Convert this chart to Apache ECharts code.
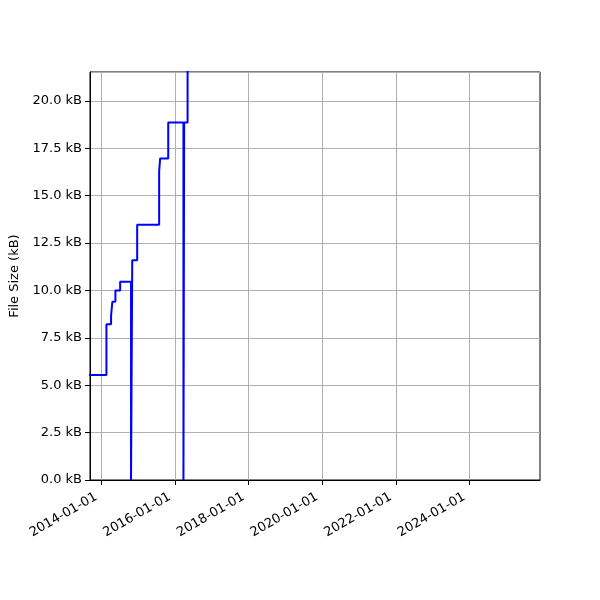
<!DOCTYPE html>
<html>
<head>
<meta charset="utf-8">
<script src="https://cdn.jsdelivr.net/npm/echarts@6/dist/echarts.min.js"></script>
<style>
  html, body { margin: 0; padding: 0; background: #fff; }
  #chart { width: 600px; height: 600px; }
</style>
</head>
<body>
<div id="chart"></div>
<script>
// commit dates and file sizes (kB), step-post
const commitDates = [
  '2013-06-01', '2014-02-20', '2014-04-07', '2014-04-20', '2014-05-20',
  '2014-07-06', '2014-10-22', '2014-11-03', '2014-12-22', '2015-07-28',
  '2015-08-07', '2015-10-26', '2016-03-25', '2016-04-01', '2016-05-05',
  '2016-06-01'
];
const fileSizes = [
  5.54, 8.22, 8.67, 9.41, 10.0,
  10.46, 0, 11.6, 13.47, 16.3,
  16.97, 18.86, 0, 18.86, 25.0,
  25.0
];
const xTicks = ['2014-01-01', '2016-01-01', '2018-01-01', '2020-01-01', '2022-01-01', '2024-01-01'];
const xRange = ['2013-09-10', '2025-11-30'];
const yMax = 21.53;

const toTime = s => echarts.time.parse(s).getTime();
const tickTimes = xTicks.map(toTime);

let myChart = echarts.init(document.getElementById('chart'));

myChart.setOption({
  animation: false,
  grid: {
    left: 90, right: 60, top: 72, bottom: 120,
    outerBoundsMode: 'none',
    containLabel: false,
    show: true, borderColor: '#000', borderWidth: 1
  },
  xAxis: {
    type: 'value',
    min: toTime(xRange[0]),
    max: toTime(xRange[1]),
    axisLine: { show: true, lineStyle: { color: '#000', width: 1 } },
    axisTick: { show: true, length: 5, lineStyle: { color: '#000' }, customValues: tickTimes },
    axisLabel: {
      customValues: tickTimes,
      rotate: 30,
      margin: 13,
      padding: [0, 6, 0, 0],
      color: '#000',
      fontSize: 13,
      fontFamily: 'DejaVu Sans',
      formatter: v => echarts.time.format(v, '{yyyy}-{MM}-{dd}', false)
    },
    splitLine: { show: true, lineStyle: { color: '#b0b0b0', width: 1 } }
  },
  yAxis: {
    type: 'value',
    min: 0,
    max: yMax,
    interval: 2.5,
    name: 'File Size (kB)',
    nameLocation: 'middle',
    nameGap: 69,
    nameTextStyle: { color: '#000', fontSize: 13, fontFamily: 'DejaVu Sans' },
    axisLine: { show: true, lineStyle: { color: '#000', width: 1 } },
    axisTick: { show: true, length: 5, lineStyle: { color: '#000' } },
    axisLabel: {
      color: '#000',
      fontSize: 13,
      fontFamily: 'DejaVu Sans',
      margin: 8,
      showMaxLabel: false,
      formatter: v => v.toFixed(1) + ' kB'
    },
    splitLine: { show: true, lineStyle: { color: '#b0b0b0', width: 1 } }
  },
  series: [{
    type: 'line',
    step: 'end',
    clip: true,
    showSymbol: false,
    lineStyle: { color: '#0000ff', width: 2 },
    data: commitDates.map((d, i) => [toTime(d), fileSizes[i]])
  }]
});
</script>
</body>
</html>
